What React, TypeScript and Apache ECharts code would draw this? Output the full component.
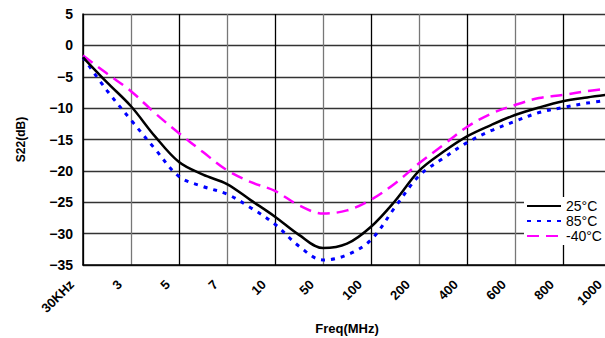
import React, { useEffect, useRef } from "react";
import * as echarts from "echarts";

const tickLabels = ["30KHz", "3", "5", "7", "10", "50", "100", "200", "400", "600", "800", "1000"];
const xPos = [0, 0.5, 1, 1.5, 2, 2.5, 3, 3.5, 4, 4.5, 5, 5.5, 6, 6.5, 7, 7.5, 8, 8.5, 9, 9.5, 10, 10.5, 11];
const s25 = [-1.9, -5.9, -9.7, -14.5, -18.6, -20.6, -22.1, -24.7, -27.3, -30.2, -32.3, -31.6, -28.9, -24.8, -20.0, -17.0, -14.5, -12.7, -11.1, -9.9, -8.9, -8.3, -7.8];
const s85 = [-1.9, -7.2, -11.9, -16.5, -20.9, -22.5, -23.7, -25.9, -28.5, -32.0, -34.2, -33.4, -31.0, -25.8, -20.8, -18.0, -15.5, -13.6, -12.1, -10.7, -9.9, -9.2, -8.7];
const sM40 = [-1.6, -4.5, -7.3, -10.8, -14.0, -17.0, -19.9, -21.8, -23.2, -25.5, -26.8, -26.3, -24.6, -22.0, -18.8, -15.9, -13.0, -10.9, -9.5, -8.4, -7.9, -7.3, -6.8];
const seriesNames = ["25°C", "85°C", "-40°C"];

const FONT = "'Liberation Sans', Arial, sans-serif";

export default function App() {
  const ref = useRef<HTMLDivElement>(null);
  useEffect(() => {
    if (!ref.current) return;
    const chart = echarts.init(ref.current, undefined, { renderer: "svg" });
    const pair = (ys: number[]) => xPos.map((x, i) => [x, ys[i]]);
    chart.setOption({
      animation: false,
      backgroundColor: "#fff",
      grid: { left: 83, top: 14, width: 528, height: 251, containLabel: false, outerBoundsMode: "none" },
      legend: {
        orient: "vertical",
        left: 524,
        top: 197,
        itemWidth: 34,
        itemHeight: 12,
        itemGap: 1,
        padding: [2, 6, 2, 2],
        backgroundColor: "#fff",
        itemStyle: { opacity: 0 },
        textStyle: { fontFamily: FONT, fontSize: 14, color: "#000" },
        data: seriesNames,
      },
      xAxis: {
        type: "value",
        min: 0,
        max: 11,
        interval: 1,
        name: "Freq(MHz)",
        nameLocation: "middle",
        nameGap: 52,
        nameTextStyle: { fontFamily: FONT, fontSize: 13, fontWeight: "bold", color: "#000" },
        axisLine: { show: true, onZero: false, lineStyle: { color: "#000", width: 1.5 } },
        axisTick: { show: false },
        axisLabel: {
          rotate: 45,
          margin: 6,
          padding: [0, 16, 0, 0],
          fontFamily: FONT,
          fontSize: 13,
          fontWeight: "bold",
          color: "#000",
          formatter: (v: number) => tickLabels[Math.round(v)] ?? "",
        },
        splitLine: { show: true, lineStyle: { color: ["#000", "#777"], width: 1.3 } },
      },
      yAxis: {
        type: "value",
        min: -35,
        max: 5,
        interval: 5,
        name: "S22(dB)",
        nameLocation: "middle",
        nameGap: 56,
        nameTextStyle: { fontFamily: FONT, fontSize: 12, fontWeight: "bold", color: "#000" },
        axisLine: { show: true, lineStyle: { color: "#000", width: 1.5 } },
        axisTick: { show: false },
        axisLabel: {
          margin: 10,
          fontFamily: FONT,
          fontSize: 14,
          fontWeight: "bold",
          color: "#000",
          formatter: (v: number) => String(v).replace("-", "\u2212"),
        },
        splitLine: { show: true, lineStyle: { color: "#333", width: 1.3 } },
      },
      series: [
        {
          name: seriesNames[0],
          type: "line",
          smooth: 0.35,
          symbol: "none",
          data: pair(s25),
          lineStyle: { color: "#000", width: 2.5, type: "solid" },
          itemStyle: { color: "#000" },
          z: 5,
        },
        {
          name: seriesNames[1],
          type: "line",
          smooth: 0.35,
          symbol: "none",
          data: pair(s85),
          lineStyle: { color: "#0000ff", width: 3, type: [4, 6] },
          itemStyle: { color: "#0000ff" },
          z: 4,
        },
        {
          name: seriesNames[2],
          type: "line",
          smooth: 0.35,
          symbol: "none",
          data: pair(sM40),
          lineStyle: { color: "#ff00ff", width: 2.5, type: [12, 7] },
          itemStyle: { color: "#ff00ff" },
          z: 3,
        },
      ],
    });
    return () => chart.dispose();
  }, []);
  return (
    <div
      ref={ref}
      style={{ position: "fixed", left: 0, top: 0, width: 605, height: 338, background: "#fff" }}
    />
  );
}
